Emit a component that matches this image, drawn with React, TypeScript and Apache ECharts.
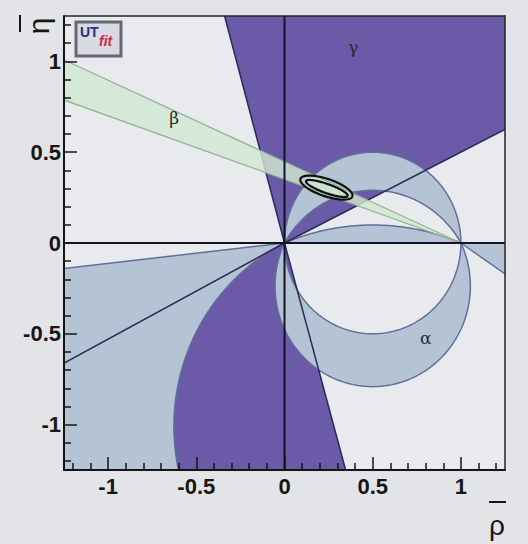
import React, { useEffect, useRef } from 'react';
import * as echarts from 'echarts';

// ---- axes ----
const X_MIN = -1.25;
const X_MAX = 1.25;
const Y_MIN = -1.25;
const Y_MAX = 1.25;
const majorTicks = [-1, -0.5, 0, 0.5, 1];
const minorTicks = [-1.2, -1.1, -0.9, -0.8, -0.7, -0.6, -0.4, -0.3, -0.2, -0.1, 0.1, 0.2, 0.3, 0.4, 0.6, 0.7, 0.8, 0.9, 1.1, 1.2];

// ---- gamma: wedges from the origin, edge angles (deg) ----
const gammaUpper = [26.6, 105.2];
const gammaLower = [207.9, 285.5];

// ---- alpha: circles through (0,0) and (1,0); eta of centre (rho of centre = 0.5) ----
const alphaC1 = 0;
const alphaC2Upper = -0.286;
const alphaC2Lower = -0.2375;
const alphaC3Upper = -1.213;
const alphaC3Lower = -1.01;
const alphaC3LowerEndDeg = 200;
const alphaRayDeg = 186.4;
const alphaRightSlope = -0.68;

// ---- beta: band from (1,0), slopes of its edges ----
const betaSlopes = [0.35, 0.448];

// ---- fit contours: [rho, eta, a, b, angleDeg] ----
const contourOuter = [0.2376, 0.305, 0.155, 0.048, -18];
const contourInner = [0.24, 0.3, 0.125, 0.025, -19];

// ---- symbols ----
const symbolNames = ['\u03b3', '\u03b2', '\u03b1'];
const symbolRho = [0.39, -0.626, 0.8];
const symbolEta = [1.08, 0.688, -0.523];

// ---- colours ----
const PURPLE = '#6a5aa7';
const LIGHTBLUE = '#b5c4d5';
const ALPHA_EDGE = '#5f6f9c';
const GREEN = '#d2e8d3';
const GREEN_EDGE = '#8db38f';

const D = Math.PI / 180;
function circ(cEta: number) {
  return { cx: 0.5, cy: cEta, r: Math.hypot(0.5, cEta) };
}
function arc(cEta: number, a0: number, a1: number, n = 160): number[][] {
  const { cx, cy, r } = circ(cEta);
  const pts: number[][] = [];
  for (let i = 0; i <= n; i++) {
    const a = (a0 + ((a1 - a0) * i) / n) * D;
    pts.push([cx + r * Math.cos(a), cy + r * Math.sin(a)]);
  }
  return pts;
}
function endAng(cEta: number) {
  return Math.atan2(-cEta, 0.5) / D;
}
function ray(deg: number, len: number) {
  return [len * Math.cos(deg * D), len * Math.sin(deg * D)];
}
function ellipse(p: number[], n = 120): number[][] {
  const [cx, cy, a, b, ang] = p;
  const c = Math.cos(ang * D);
  const s = Math.sin(ang * D);
  const pts: number[][] = [];
  for (let i = 0; i <= n; i++) {
    const t = (2 * Math.PI * i) / n;
    const u = a * Math.cos(t);
    const v = b * Math.sin(t);
    pts.push([cx + u * c - v * s, cy + u * s + v * c]);
  }
  return pts;
}

// ---- build shapes ----
const wedge = (g: number[]) => [[0, 0], ray(g[0], 4), ray((g[0] + g[1]) / 2, 4), ray(g[1], 4)];
const gammaPolys = [wedge(gammaUpper), wedge(gammaLower)];

const e2u = endAng(alphaC2Upper);
const e2l = endAng(alphaC2Lower);
const e3u = endAng(alphaC3Upper);
const e3l = endAng(alphaC3Lower);
const c3lArc = arc(alphaC3Lower, alphaC3LowerEndDeg, 180 - e3l);
const alphaPolys = [
  [...arc(alphaC1, 0, 180), ...arc(alphaC2Upper, 180 - e2u, e2u)],
  arc(alphaC3Upper, e3u, 180 - e3u),
  [...arc(alphaC2Lower, 180 - e2l, 360 + e2l), ...arc(alphaC1, 360, 180)],
  [[0, 0], ray(alphaRayDeg, 5), [-5, -5], [c3lArc[0][0], -5], ...c3lArc],
  [[1, 0], [4, 0], [4, alphaRightSlope * 3]],
];
const alphaEdges = [
  arc(alphaC1, 0, 360, 240),
  arc(alphaC2Upper, e2u, 180 - e2u),
  arc(alphaC2Lower, 180 - e2l, 360 + e2l),
  arc(alphaC3Upper, e3u, 180 - e3u),
  c3lArc,
  [[0, 0], ray(alphaRayDeg, 5)],
  [[1, 0], [4, alphaRightSlope * 3]],
];
const gammaLines = [gammaUpper[0], gammaUpper[1], gammaLower[0], gammaLower[1]].map((g) => [[0, 0], ray(g, 4)]);
const betaPoly = [[1, 0], [-4, 5 * betaSlopes[1]], [-4, 5 * betaSlopes[0]]];
const betaEdges = betaSlopes.map((s) => [[1, 0], [-4, 5 * s]]);
const zeroLines = [
  [[X_MIN, 0], [X_MAX, 0]],
  [[0, Y_MIN], [0, Y_MAX]],
];
const contours = [ellipse(contourOuter), ellipse(contourInner)];

function polySeries(name: string, polys: number[][][], style: any, z: number, closed = true) {
  return {
    type: 'custom',
    name,
    coordinateSystem: 'cartesian2d',
    xAxisIndex: 0,
    yAxisIndex: 0,
    clip: true,
    z,
    silent: true,
    data: polys.map(() => [0, 0]),
    renderItem: (params: any, api: any) => {
      const pts = polys[params.dataIndex].map((p) => api.coord(p));
      return {
        type: closed ? 'polygon' : 'polyline',
        shape: { points: pts },
        style: closed ? style : { ...style, fill: 'none' },
      };
    },
  };
}

const fmt = (v: number) => {
  if (Math.abs(v * 2 - Math.round(v * 2)) > 1e-6) return '';
  const r = Math.round(v * 2) / 2;
  return r === 0 ? '0' : String(r);
};

const labelStyle = {
  fontSize: 22,
  fontWeight: 'bold',
  color: '#161616',
  fontFamily: 'Liberation Sans',
};

const option: any = {
  animation: false,
  backgroundColor: '#e3e4e7',
  grid: [
    { left: 64, top: 16, right: 23, bottom: 74, show: true, backgroundColor: '#e9eaee', borderWidth: 0 },
    { left: 64, top: 16, right: 23, bottom: 74, show: false },
  ],
  xAxis: [
    {
      type: 'value', gridIndex: 0, min: X_MIN, max: X_MAX, position: 'bottom', z: 10,
      splitLine: { show: false },
      axisLine: { show: true, onZero: false, lineStyle: { color: '#141414', width: 2 } },
      axisTick: { show: true, inside: true, length: 13, customValues: majorTicks, lineStyle: { color: '#141414', width: 1.5 } },
      axisLabel: { ...labelStyle, customValues: majorTicks, margin: 5, formatter: fmt },
    },
    {
      type: 'value', gridIndex: 0, min: X_MIN, max: X_MAX, position: 'top', z: 10,
      splitLine: { show: false },
      axisLine: { show: true, onZero: false, lineStyle: { color: '#232326', width: 1.5 } },
      axisTick: { show: false },
      axisLabel: { show: false },
    },
    {
      type: 'value', gridIndex: 1, min: X_MIN, max: X_MAX, position: 'bottom', z: 10,
      splitLine: { show: false },
      axisLine: { show: false, onZero: false },
      axisTick: { show: true, inside: true, length: 7, customValues: minorTicks, lineStyle: { color: '#141414', width: 1.5 } },
      axisLabel: { show: false },
    },
  ],
  yAxis: [
    {
      type: 'value', gridIndex: 0, min: Y_MIN, max: Y_MAX, position: 'left', z: 10,
      splitLine: { show: false },
      axisLine: { show: true, onZero: false, lineStyle: { color: '#141414', width: 2 } },
      axisTick: { show: true, inside: true, length: 13, customValues: majorTicks, lineStyle: { color: '#141414', width: 1.5 } },
      axisLabel: { ...labelStyle, customValues: majorTicks, margin: 3, formatter: fmt },
    },
    {
      type: 'value', gridIndex: 0, min: Y_MIN, max: Y_MAX, position: 'right', z: 10,
      splitLine: { show: false },
      axisLine: { show: true, onZero: false, lineStyle: { color: '#232326', width: 1.5 } },
      axisTick: { show: false },
      axisLabel: { show: false },
    },
    {
      type: 'value', gridIndex: 1, min: Y_MIN, max: Y_MAX, position: 'left', z: 10,
      splitLine: { show: false },
      axisLine: { show: false, onZero: false },
      axisTick: { show: true, inside: true, length: 7, customValues: minorTicks, lineStyle: { color: '#141414', width: 1.5 } },
      axisLabel: { show: false },
    },
  ],
  series: [
    polySeries('gamma', gammaPolys, { fill: PURPLE }, 2),
    polySeries('alpha', alphaPolys, { fill: LIGHTBLUE }, 3),
    polySeries('alpha-edges', alphaEdges, { stroke: ALPHA_EDGE, lineWidth: 1.5 }, 4, false),
    polySeries('gamma-lines', gammaLines, { stroke: '#2a2a58', lineWidth: 1.5 }, 5, false),
    polySeries('beta', [betaPoly], { fill: GREEN, opacity: 0.82 }, 6),
    polySeries('beta-edges', betaEdges, { stroke: GREEN_EDGE, lineWidth: 1.2 }, 7, false),
    polySeries('zero', zeroLines, { stroke: '#121226', lineWidth: 2 }, 8, false),
    polySeries('contours', contours, { stroke: '#101010', lineWidth: 2.2 }, 9, false),
    {
      type: 'custom',
      name: 'symbols',
      coordinateSystem: 'cartesian2d',
      xAxisIndex: 0,
      yAxisIndex: 0,
      z: 11,
      silent: true,
      data: symbolNames.map((_, i) => [symbolRho[i], symbolEta[i]]),
      renderItem: (params: any, api: any) => {
        const p = api.coord([api.value(0), api.value(1)]);
        return {
          type: 'text',
          x: p[0],
          y: p[1],
          style: {
            text: symbolNames[params.dataIndex],
            fontSize: 17,
            fontFamily: 'DejaVu Serif',
            fill: '#2a2a2a',
            align: 'center',
            verticalAlign: 'middle',
            textAlign: 'center',
            textVerticalAlign: 'middle',
          },
        };
      },
    },
  ],
  graphic: [
    // UTfit logo
    { type: 'rect', shape: { x: 76, y: 22, width: 45, height: 34 }, style: { fill: '#d9d9e4', stroke: '#666672', lineWidth: 3 }, z: 20 },
    { type: 'text', x: 80, y: 25, style: { text: 'UT', fontSize: 14, fontWeight: 'bold', fontFamily: 'Liberation Sans', fill: '#23307a' }, z: 21 },
    { type: 'text', x: 99, y: 34, style: { text: 'fit', fontSize: 14, fontWeight: 'bold', fontStyle: 'italic', fontFamily: 'Liberation Sans', fill: '#d4283c' }, z: 21 },
    // axis titles
    { type: 'text', x: 497, y: 525, style: { text: '\u03c1', fontSize: 28, fontFamily: 'Liberation Sans', fill: '#161616', textAlign: 'center', textVerticalAlign: 'middle', align: 'center', verticalAlign: 'middle' }, z: 20 },
    { type: 'line', shape: { x1: 489, y1: 502, x2: 506, y2: 502 }, style: { stroke: '#161616', lineWidth: 2 }, z: 20 },
    { type: 'text', x: 38, y: 26, rotation: Math.PI / 2, style: { text: '\u03b7', fontSize: 30, fontFamily: 'Liberation Sans', fill: '#161616', textAlign: 'center', textVerticalAlign: 'middle', align: 'center', verticalAlign: 'middle' }, z: 20 },
    { type: 'line', shape: { x1: 20, y1: 15, x2: 20, y2: 32 }, style: { stroke: '#161616', lineWidth: 2 }, z: 20 },
  ],
};

export default function App() {
  const ref = useRef<HTMLDivElement>(null);
  useEffect(() => {
    const chart = echarts.init(ref.current as HTMLDivElement, null, { renderer: 'svg' });
    chart.setOption(option);
    return () => chart.dispose();
  }, []);
  return <div ref={ref} style={{ position: 'fixed', left: 0, top: 0, width: 528, height: 544 }} />;
}
